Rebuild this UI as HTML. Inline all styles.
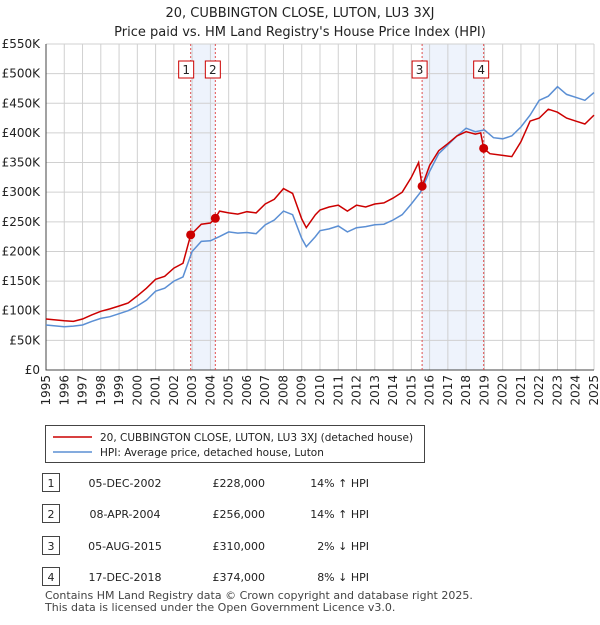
<!DOCTYPE html>
<html><head><meta charset="utf-8"><style>
body{margin:0;background:#fff;font-family:"Liberation Sans","DejaVu Sans",sans-serif;}
svg text{font-family:"DejaVu Sans","Liberation Sans",sans-serif;}
</style></head><body>
<svg id="c" width="600" height="620" viewBox="0 0 600 620"></svg>
<script>
const hpiYears=[1995,1996,1996.5,1997,1997.5,1998,1998.5,1999,1999.5,2000,2000.5,2001,2001.5,2002,2002.5,2003,2003.5,2004,2004.5,2005,2005.5,2006,2006.5,2007,2007.5,2008,2008.5,2009,2009.25,2009.75,2010,2010.5,2011,2011.5,2012,2012.5,2013,2013.5,2014,2014.5,2015,2015.5,2016,2016.5,2017,2017.5,2018,2018.5,2019,2019.5,2020,2020.5,2021,2021.5,2022,2022.5,2023,2023.5,2024,2024.5,2025];
const hpiValues=[76,73,74,76,82,87,90,95,100,108,118,133,138,150,157,200,217,218,225,233,231,232,230,245,253,268,262,222,208,225,235,238,243,233,240,242,245,246,253,262,280,300,335,365,380,395,408,402,405,392,390,395,410,430,455,462,478,465,460,455,468];
const ppYears=[1995,1996,1996.5,1997,1997.5,1998,1998.5,1999,1999.5,2000,2000.5,2001,2001.5,2002,2002.5,2002.92,2003.5,2004,2004.27,2004.5,2005,2005.5,2006,2006.5,2007,2007.5,2008,2008.5,2009,2009.25,2009.75,2010,2010.5,2011,2011.5,2012,2012.5,2013,2013.5,2014,2014.5,2015,2015.4,2015.59,2016,2016.5,2017,2017.5,2018,2018.5,2018.8,2018.96,2019.3,2020,2020.5,2021,2021.5,2022,2022.5,2023,2023.5,2024,2024.5,2025];
const ppValues=[86,83,82,86,93,99,103,108,113,125,138,153,158,172,180,228,246,248,256,268,265,263,267,265,280,288,306,298,255,240,262,270,275,278,268,278,275,280,282,290,300,325,350,310,345,370,382,395,402,398,400,374,365,362,360,385,420,425,440,435,425,420,415,430];
const saleLabels=["1","2","3","4"];
const saleYears=[2002.92,2004.27,2015.59,2018.96];
const salePrices=[228,256,310,374];
const yTicks=[0,50,100,150,200,250,300,350,400,450,500,550];
const xTicks=[1995,1996,1997,1998,1999,2000,2001,2002,2003,2004,2005,2006,2007,2008,2009,2010,2011,2012,2013,2014,2015,2016,2017,2018,2019,2020,2021,2022,2023,2024,2025];
const X=y=>46+(y-1995)*(548/30);
const Y=v=>370-v*(326/550);
const NS="http://www.w3.org/2000/svg";
const svg=document.getElementById('c');
function mk(t,a,p){const e=document.createElementNS(NS,t);for(const k in a)e.setAttribute(k,a[k]);(p||svg).appendChild(e);return e;}
let t;
t=mk('text',{x:300,y:17,'text-anchor':'middle','font-size':13,fill:'#222'});t.textContent='20, CUBBINGTON CLOSE, LUTON, LU3 3XJ';


t=mk('text',{x:300,y:36,'text-anchor':'middle','font-size':13,fill:'#222'});t.textContent="Price paid vs. HM Land Registry's House Price Index (HPI)";


for(let i=0;i<4;i+=2){const r=mk('rect',{x:X(saleYears[i]),y:Y(550),width:X(saleYears[i+1])-X(saleYears[i]),height:Y(0)-Y(550),fill:'#eef3fc'});

}
yTicks.forEach(v=>{const l=mk('line',{x1:46,x2:594,y1:Y(v),y2:Y(v),stroke:'#d0d0d0'});


const tx=mk('text',{x:40,y:Y(v)+4,'text-anchor':'end','font-size':12,fill:'#222'});tx.textContent=v==0?'£0':'£'+v+'K';

});
xTicks.forEach(v=>{const l=mk('line',{x1:X(v),x2:X(v),y1:Y(550),y2:Y(0),stroke:'#d0d0d0'});


const tx=mk('text',{x:0,y:0,'text-anchor':'end','font-size':12,fill:'#222',transform:`translate(${X(v)+4},375) rotate(-90)`});tx.textContent=v;

});
const ax=mk('path',{d:`M46 ${Y(550)}V${Y(0)}H594`,stroke:'#444',fill:'none'});


const offs=[-5,-3,-3,-3];
saleYears.forEach((s,i)=>{const l=mk('line',{x1:X(s),x2:X(s),y1:Y(550),y2:Y(0),stroke:'#e05050','stroke-dasharray':'2,2','stroke-width':1});


const bx=X(s)+offs[i];
const g=mk('g',{});


mk('rect',{x:bx-7,y:61,width:15,height:17,fill:'#fff',stroke:'#c00'},g);
const tt=mk('text',{x:bx+0.5,y:74,'text-anchor':'middle','font-size':12,fill:'#222'},g);tt.textContent=saleLabels[i];});
const pl=(xs,vs)=>xs.map((x,i)=>(i?'L':'M')+X(x).toFixed(1)+' '+Y(vs[i]).toFixed(1)).join('');
const hp=mk('path',{d:pl(hpiYears,hpiValues),stroke:'#5b8fd4',fill:'none','stroke-width':1.5});


const pp=mk('path',{d:pl(ppYears,ppValues),stroke:'#cc0000',fill:'none','stroke-width':1.5});


saleYears.forEach((s,i)=>{const c=mk('circle',{cx:X(s),cy:Y(salePrices[i]),r:4.5,fill:'#cc0000'});

});
const lg=mk('g',{});


mk('rect',{x:45.5,y:425.5,width:379,height:37,fill:'#fff',stroke:'#444'},lg);
mk('line',{x1:53,x2:92,y1:437,y2:437,stroke:'#cc0000','stroke-width':1.5},lg);
mk('line',{x1:53,x2:92,y1:452,y2:452,stroke:'#5b8fd4','stroke-width':1.5},lg);
t=mk('text',{x:100,y:441,'font-size':10.5,fill:'#222'},lg);t.textContent='20, CUBBINGTON CLOSE, LUTON, LU3 3XJ (detached house)';


t=mk('text',{x:100,y:456,'font-size':10.5,fill:'#222'},lg);t.textContent='HPI: Average price, detached house, Luton';


const rows=[["05-DEC-2002","£228,000","14% ↑ HPI"],["08-APR-2004","£256,000","14% ↑ HPI"],["05-AUG-2015","£310,000","  2% ↓ HPI"],["17-DEC-2018","£374,000","  8% ↓ HPI"]];
const ry=[483,514,546,577];
rows.forEach((r,i)=>{const g=mk('g',{});


mk('rect',{x:42.5,y:ry[i]-9.5,width:17,height:18,fill:'#fff',stroke:'#444'},g);
let a=mk('text',{x:51,y:ry[i]+4,'text-anchor':'middle','font-size':11,fill:'#222'},g);a.textContent=i+1;
a=mk('text',{x:125,y:ry[i]+4,'text-anchor':'middle','font-size':11,fill:'#222'},g);a.textContent=r[0];
a=mk('text',{x:265,y:ry[i]+4,'text-anchor':'end','font-size':11,fill:'#222'},g);a.textContent=r[1];
a=mk('text',{x:369,y:ry[i]+4,'text-anchor':'end','font-size':11,fill:'#222','xml:space':'preserve'},g);a.textContent=r[2];});
t=mk('text',{x:45,y:599,'font-size':11,fill:'#444'});t.textContent='Contains HM Land Registry data © Crown copyright and database right 2025.';


t=mk('text',{x:45,y:611,'font-size':11,fill:'#444'});t.textContent='This data is licensed under the Open Government Licence v3.0.';


</script>
</body></html>
